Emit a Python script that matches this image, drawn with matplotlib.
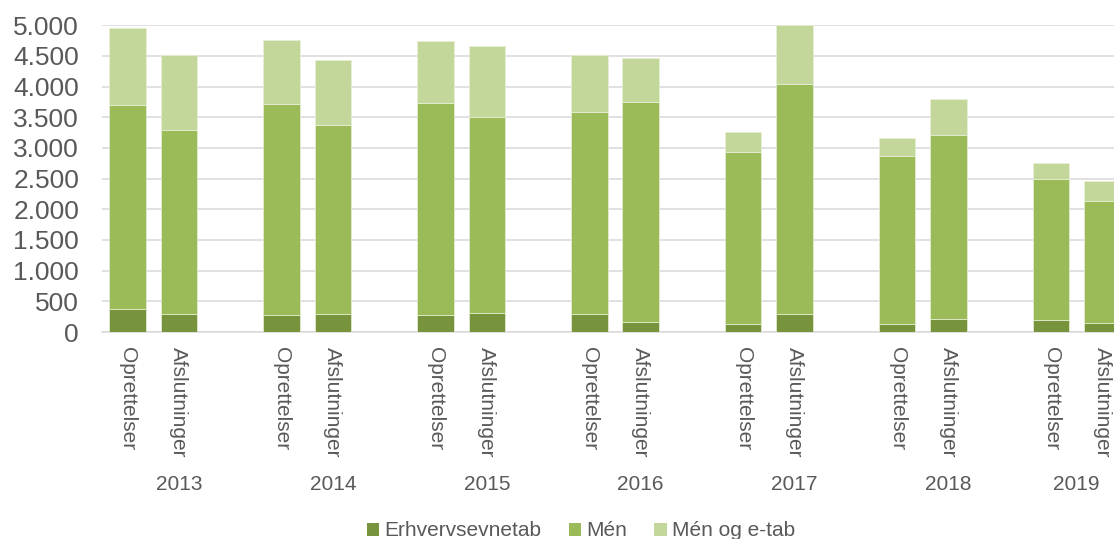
import numpy as np
import matplotlib.pyplot as plt
from matplotlib.patches import Patch
from matplotlib.transforms import blended_transform_factory

# Stacked bars: oprettelser / afslutninger per year, three types

years = ["2013", "2014", "2015", "2016", "2017", "2018", "2019"]
kinds = ["Oprettelser", "Afslutninger"]

# values per bar, order: 2013 Opr, 2013 Afs, 2014 Opr, ...
erhvervsevnetab = [375, 293, 283, 293, 283, 310, 299, 163, 136, 299, 136, 217, 196, 141]
men = [3326, 3006, 3434, 3087, 3451, 3195, 3288, 3592, 2799, 3739, 2739, 2995, 2304, 1995]
men_og_etab = [1256, 1217, 1044, 1049, 1016, 1153, 929, 712, 320, 962, 283, 592, 250, 326]

series_names = ["Erhvervsevnetab", "Mén", "Mén og e-tab"]
colors = ["#77933C", "#9BBB59", "#C4D79B"]
text_color = "#595959"

plt.rcParams['font.family'] = ['Liberation Sans', 'DejaVu Sans']

# each year takes 3 slots (2 bars + a blank one), the last year has no blank
x = []
bar_labels = []
year_pos = []
for g, year in enumerate(years):
    for j, kind in enumerate(kinds):
        x.append(3 * g + j)
        bar_labels.append(kind)
    if g < len(years) - 1:
        year_pos.append(3 * g + 1)
    else:
        year_pos.append(3 * g + 0.5)
x = np.array(x)

W, H = 1114, 539
fig = plt.figure(figsize=(W / 100, H / 100), dpi=100)
# plot area runs past the right edge of the picture, like the original
ax = fig.add_axes([102 / W, 207 / H, (1128 - 102) / W, (332 - 25.3) / H])

data = [np.array(erhvervsevnetab), np.array(men), np.array(men_og_etab)]
bottom = np.zeros(len(x))
for vals, name, col in zip(data, series_names, colors):
    ax.bar(x, vals, bottom=bottom, width=0.708, color=col, label=name,
           edgecolor="#E8F0D8", linewidth=0.5, zorder=3)
    bottom = bottom + vals

ax.set_xlim(-0.5, 19.5)
ax.set_ylim(0, 5000)
ax.set_yticks(np.arange(0, 5001, 500))
ax.set_yticklabels([f"{v:,}".replace(",", ".") for v in range(0, 5001, 500)])
ax.grid(axis='y', color="#D9D9D9", linewidth=1.1, zorder=0)
ax.set_axisbelow(True)

for s in ["top", "right", "left"]:
    ax.spines[s].set_visible(False)
ax.spines["bottom"].set_color("#D9D9D9")
ax.spines["bottom"].set_linewidth(1.1)

ax.tick_params(axis='y', length=0, pad=16.5, labelsize=19, labelcolor=text_color)
ax.set_xticks(x)
ax.set_xticklabels(bar_labels, rotation=270)
ax.tick_params(axis='x', length=0, pad=10.5, labelsize=15, labelcolor=text_color)

# year labels under the bar names
trans = blended_transform_factory(ax.transData, fig.transFigure)
for pos, year in zip(year_pos, years):
    ax.text(pos, 54 / H, year, transform=trans, ha='center', va='center',
            fontsize=15, color=text_color)

handles = [Patch(facecolor=c, edgecolor='none') for c in colors]
fig.legend(handles, series_names, loc='center', bbox_to_anchor=(581 / W, 8 / H),
           ncol=3, frameon=False, fontsize=15, labelcolor=text_color,
           handlelength=0.6, handleheight=0.6, handletextpad=0.25,
           columnspacing=1.3)

plt.savefig("out.png", dpi=100)
